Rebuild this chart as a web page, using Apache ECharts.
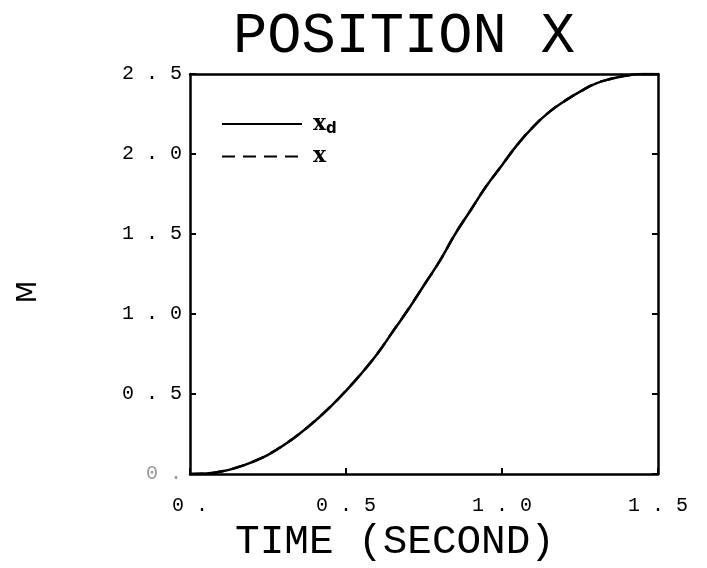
<!DOCTYPE html>
<html>
<head>
<meta charset="utf-8">
<script src="https://cdn.jsdelivr.net/npm/echarts@6/dist/echarts.min.js"></script>
<style>html,body{margin:0;padding:0;background:#fff;}#c{width:707px;height:568px;}</style>
</head>
<body>
<div id="c"></div>
<script>
var timeValues = [0, 0.05, 0.1, 0.15, 0.2, 0.25, 0.3, 0.35, 0.4, 0.45, 0.5, 0.55, 0.6, 0.65, 0.7, 0.75, 0.8, 0.85, 0.9, 0.95, 1.0, 1.05, 1.1, 1.15, 1.2, 1.25, 1.3, 1.35, 1.4, 1.45, 1.5];
var xdValues = [0, 0.003, 0.015, 0.04, 0.075, 0.12, 0.18, 0.25, 0.33, 0.42, 0.52, 0.63, 0.75, 0.89, 1.03, 1.18, 1.33, 1.5, 1.65, 1.8, 1.93, 2.06, 2.17, 2.26, 2.33, 2.39, 2.44, 2.47, 2.49, 2.5, 2.5];
var xValues = [0, 0.003, 0.016, 0.041, 0.076, 0.121, 0.181, 0.251, 0.331, 0.421, 0.521, 0.631, 0.751, 0.891, 1.031, 1.18, 1.33, 1.5, 1.65, 1.8, 1.93, 2.06, 2.17, 2.26, 2.33, 2.39, 2.44, 2.47, 2.49, 2.5, 2.5];
var xTickLabels = ['0 .', '0 . 5', '1 . 0', '1 . 5'];
var yTickLabels = ['0 .', '0 . 5', '1 . 0', '1 . 5', '2 . 0', '2 . 5'];
var seriesNames = ['x_d', 'x'];

function pairs(xs, ys) { return xs.map(function (v, i) { return [v, ys[i]]; }); }

var mono = 'Liberation Mono';
var chart = echarts.init(document.getElementById('c'), null, {renderer: 'canvas'});
chart.setOption({
  animation: false,
  backgroundColor: '#fff',
  title: {
    text: 'POSITION X',
    left: 228, top: 3,
    textStyle: {fontFamily: mono, fontSize: 57, fontWeight: 'normal', color: '#000'}
  },
  grid: {left: 190, right: 49, top: 74, bottom: 91},
  legend: {
    orient: 'vertical', left: 216, top: 108, itemWidth: 80, itemHeight: 14, itemGap: 9,
    data: seriesNames,
    itemStyle: {opacity: 0},
    formatter: function (n) { return n === 'x_d' ? '{b|x}{s|d}' : '{b|x}'; },
    textStyle: {
      color: '#000',
      rich: {
        b: {fontFamily: 'DejaVu Serif', fontWeight: 'bold', fontSize: 22, color: '#000', padding: [0, 0, 0, 6]},
        s: {fontFamily: 'DejaVu Sans', fontWeight: 'bold', fontSize: 15, color: '#000', padding: [10, 0, 0, 0]}
      }
    }
  },
  xAxis: [{
    type: 'value', min: 0, max: 1.5, interval: 0.5,
    name: 'TIME (SECOND)', nameLocation: 'middle', nameGap: 48,
    nameTextStyle: {fontFamily: mono, fontSize: 41, color: '#000', padding: [0, 58, 0, 0]},
    axisLine: {onZero: false, lineStyle: {color: '#000', width: 2.5}},
    axisTick: {inside: true, length: 6, lineStyle: {color: '#000', width: 2}},
    splitLine: {show: false},
    axisLabel: {margin: 22, fontFamily: mono, fontSize: 20, color: '#000',
      formatter: function (v) { return xTickLabels[Math.round(v / 0.5)]; }}
  }, {
    type: 'value', position: 'top', min: 0, max: 1.5, interval: 0.5,
    axisLine: {show: true, onZero: false, lineStyle: {color: '#000', width: 2.5}},
    axisTick: {show: false}, axisLabel: {show: false}, splitLine: {show: false}
  }],
  yAxis: [{
    type: 'value', min: 0, max: 2.5, interval: 0.5,
    name: 'M', nameLocation: 'middle', nameGap: 148, nameRotate: 90,
    nameTextStyle: {fontFamily: 'DejaVu Sans', fontSize: 26, color: '#000', padding: [0, 36, 0, 0]},
    axisLine: {onZero: false, lineStyle: {color: '#000', width: 2.5}},
    axisTick: {inside: true, length: 6, lineStyle: {color: '#000', width: 2}},
    splitLine: {show: false},
    axisLabel: {margin: 8, fontFamily: mono, fontSize: 20,
      color: function (v, i) { return Math.round(v * 2) === 0 ? '#999' : '#000'; },
      formatter: function (v) { return yTickLabels[Math.round(v / 0.5)]; }}
  }, {
    type: 'value', position: 'right', min: 0, max: 2.5, interval: 0.5,
    axisLine: {show: true, onZero: false, lineStyle: {color: '#000', width: 2.5}},
    axisTick: {show: true, inside: true, length: 6, lineStyle: {color: '#000', width: 2}},
    axisLabel: {show: false}, splitLine: {show: false}
  }],
  series: [{
    name: 'x_d', type: 'line', showSymbol: false, symbol: 'none', smooth: true,
    data: pairs(timeValues, xdValues),
    lineStyle: {color: '#000', width: 2.5, type: 'solid'},
    itemStyle: {color: '#000'}
  }, {
    name: 'x', type: 'line', showSymbol: false, symbol: 'none', smooth: true,
    data: pairs(timeValues, xValues),
    lineStyle: {color: '#000', width: 2.5, type: [13, 8]},
    itemStyle: {color: '#000'}
  }]
});
</script>
</body>
</html>
